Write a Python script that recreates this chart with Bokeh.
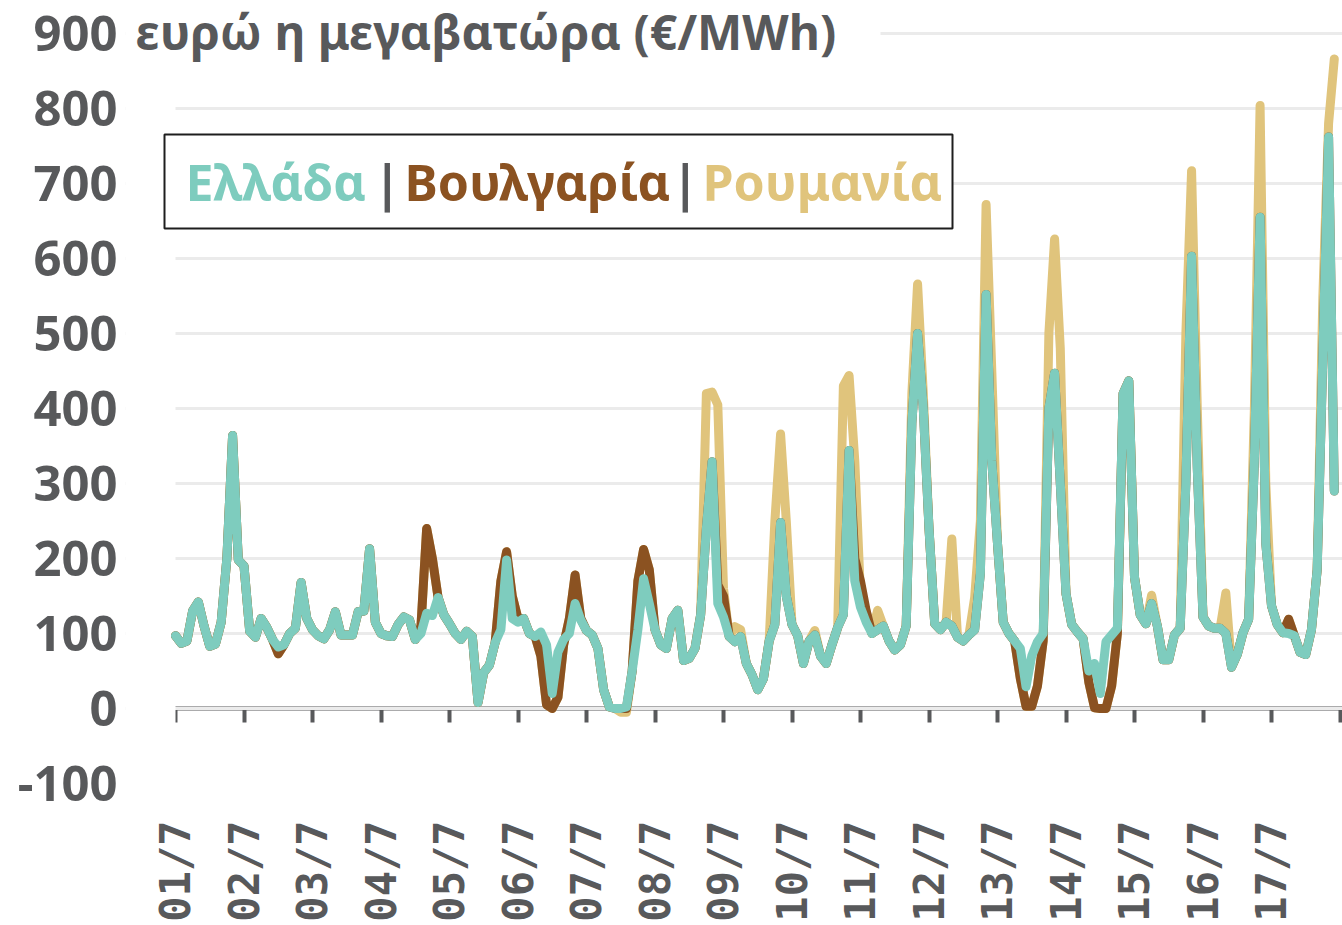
import math
from bokeh.plotting import figure
from bokeh.models import FixedTicker, LinearAxis, Label, BoxAnnotation, Range1d
from bokeh.embed import file_html
from bokeh.resources import INLINE

# ---------------- data (values every 2 hours, 12 per day) ----------------
day_labels = ["01/7", "02/7", "03/7", "04/7", "05/7", "06/7", "07/7", "08/7", "09/7",
              "10/7", "11/7", "12/7", "13/7", "14/7", "15/7", "16/7", "17/7"]
step_hours = 2

greece = [
    97, 87, 90, 130, 142, 110, 83, 86, 115, 200, 364, 198,      # 01/7
    190, 103, 95, 120, 108, 92, 82, 85, 100, 107, 168, 120,     # 02/7
    105, 97, 93, 105, 129, 98, 98, 98, 129, 130, 213, 115,      # 03/7
    100, 97, 96, 112, 122, 118, 92, 100, 127, 124, 148, 125,    # 04/7
    113, 100, 92, 103, 96, 8, 48, 58, 88, 105, 198, 120,        # 05/7
    115, 120, 100, 96, 102, 85, 20, 75, 92, 100, 140, 118,      # 06/7
    104, 98, 80, 25, 2, 0, 0, 2, 50, 105, 173, 140,             # 07/7
    105, 85, 80, 120, 131, 64, 67, 80, 125, 240, 329, 140,      # 08/7
    122, 96, 89, 96, 60, 45, 25, 40, 90, 112, 248, 150,         # 09/7
    112, 97, 60, 90, 98, 70, 60, 85, 108, 125, 344, 170,        # 10/7
    135, 115, 100, 105, 110, 90, 78, 85, 110, 380, 500, 400,    # 11/7
    240, 113, 105, 115, 110, 95, 90, 98, 105, 180, 552, 330,    # 12/7
    220, 115, 100, 90, 80, 29, 70, 89, 100, 400, 447, 300,      # 13/7
    153, 112, 102, 93, 50, 60, 20, 89, 98, 107, 420, 437,       # 14/7
    175, 125, 113, 140, 110, 65, 65, 98, 107, 300, 603, 320,    # 15/7
    122, 110, 107, 107, 100, 55, 72, 101, 119, 330, 655, 220,   # 16/7
    137, 112, 101, 100, 97, 75, 72, 105, 185, 470, 762, 290,    # 17/7
]

bulgaria = [
    97, 87, 90, 130, 142, 110, 83, 86, 115, 200, 364, 198,      # 01/7
    190, 103, 95, 120, 108, 92, 73, 85, 100, 107, 168, 120,     # 02/7
    105, 97, 93, 105, 129, 98, 98, 98, 129, 130, 213, 115,      # 03/7
    100, 97, 96, 112, 122, 118, 92, 110, 240, 200, 148, 125,    # 04/7
    113, 100, 92, 103, 96, 8, 48, 58, 88, 170, 209, 150,        # 05/7
    120, 120, 100, 96, 70, 5, 0, 15, 85, 120, 178, 120,         # 06/7
    104, 98, 80, 25, 2, 0, 0, 0, 50, 170, 212, 185,             # 07/7
    105, 85, 80, 120, 131, 64, 67, 80, 125, 240, 329, 165,      # 08/7
    150, 96, 89, 96, 60, 45, 25, 40, 90, 112, 248, 150,         # 09/7
    112, 97, 60, 90, 98, 70, 60, 85, 108, 125, 344, 200,        # 10/7
    170, 130, 100, 105, 110, 90, 78, 85, 110, 380, 500, 400,    # 11/7
    240, 113, 105, 115, 110, 95, 90, 98, 105, 180, 552, 330,    # 12/7
    220, 115, 100, 90, 40, 3, 3, 30, 90, 400, 447, 300,         # 13/7
    153, 112, 102, 93, 35, 1, 0, 0, 30, 100, 420, 437,          # 14/7
    175, 125, 113, 140, 110, 65, 65, 98, 107, 300, 603, 320,    # 15/7
    122, 110, 107, 107, 100, 55, 72, 101, 119, 330, 655, 220,   # 16/7
    137, 112, 101, 119, 97, 75, 72, 105, 185, 470, 762, 290,    # 17/7
]

romania = [
    97, 87, 90, 130, 142, 110, 83, 86, 115, 200, 364, 198,      # 01/7
    190, 103, 95, 120, 108, 92, 73, 85, 100, 107, 168, 120,     # 02/7
    105, 97, 93, 105, 129, 98, 98, 98, 129, 130, 213, 115,      # 03/7
    100, 97, 96, 112, 122, 118, 92, 110, 240, 200, 148, 125,    # 04/7
    113, 100, 92, 103, 96, 8, 48, 58, 88, 170, 209, 150,        # 05/7
    120, 120, 100, 96, 70, 5, 0, 15, 85, 120, 178, 120,         # 06/7
    104, 98, 80, 25, 2, 0, -5, -5, 50, 170, 212, 185,           # 07/7
    105, 85, 80, 120, 131, 64, 67, 80, 125, 420, 422, 405,      # 08/7
    160, 96, 109, 105, 60, 45, 25, 40, 90, 250, 366, 250,       # 09/7
    112, 97, 60, 90, 104, 70, 60, 85, 108, 430, 444, 330,       # 10/7
    150, 130, 100, 131, 110, 90, 78, 85, 110, 420, 566, 420,    # 11/7
    240, 113, 105, 115, 226, 95, 90, 98, 148, 250, 672, 450,    # 12/7
    220, 115, 100, 90, 40, 3, 3, 30, 90, 500, 626, 480,         # 13/7
    153, 112, 102, 93, 35, 1, 0, 0, 30, 100, 420, 437,          # 14/7
    175, 125, 113, 151, 110, 65, 65, 98, 107, 500, 717, 400,    # 15/7
    122, 110, 107, 107, 154, 55, 72, 101, 119, 400, 804, 300,   # 16/7
    137, 112, 101, 119, 97, 75, 72, 105, 185, 550, 780, 866,    # 17/7
]

y_ticks = [-100, 0, 100, 200, 300, 400, 500, 600, 700, 800, 900]
title_text = "ευρώ η μεγαβατώρα (€/MWh)"
legend_names = ["Ελλάδα", "Βουλγαρία", "Ρουμανία"]

hours = [i * step_hours for i in range(len(greece))]
day_ticks = [24 * i for i in range(len(day_labels))]
edge_ticks = [24 * i for i in range(len(day_labels) + 1)]

# ---------------- styles / layout ----------------
GREECE_C = "#7ECCBE"
BULG_C = "#8B5221"
ROM_C = "#E0C47C"
GRAY = "#58595B"
FONT = "Noto Sans"

PX_PER_HOUR = 68.5 / 24.0      # page pixels per hour
X0_PAGE = 175.0                # page x of hour 0
Y0_PAGE = 708.0                # page y of value 0
PX_PER_UNIT = 0.75             # page pixels per €/MWh
FRAME_LEFT = 125
FRAME_RIGHT = 1342
FRAME_TOP = 0
FRAME_BOTTOM = 783


def px_x(px):
    return (px - X0_PAGE) / PX_PER_HOUR


def px_y(py):
    return (Y0_PAGE - py) / PX_PER_UNIT


x_start = px_x(FRAME_LEFT)
x_end = px_x(FRAME_RIGHT)
y_start = px_y(FRAME_BOTTOM)
y_end = px_y(FRAME_TOP)

p = figure(frame_width=FRAME_RIGHT - FRAME_LEFT, frame_height=FRAME_BOTTOM - FRAME_TOP,
           output_backend="svg", toolbar_location=None,
           x_range=Range1d(x_start, x_end), y_range=Range1d(y_start, y_end),
           min_border_left=FRAME_LEFT, min_border_right=0, min_border_top=FRAME_TOP,
           min_border_bottom=0)
p.outline_line_color = None
p.background_fill_color = "white"
p.border_fill_color = "white"

# grid
p.xgrid.visible = False
p.ygrid.ticker = FixedTicker(ticks=y_ticks)
p.ygrid.grid_line_color = "#EBEBEB"
p.ygrid.grid_line_width = 3

# white mask: grid lines start at hour 0 as in the original
p.add_layout(BoxAnnotation(left=x_start, right=0, bottom=y_start, top=y_end,
                           fill_color="white", fill_alpha=1, line_color=None,
                           level="underlay"))

# y axis
ya = p.yaxis[0]
ya.ticker = FixedTicker(ticks=y_ticks)
ya.axis_line_color = None
ya.major_tick_line_color = None
ya.minor_tick_line_color = None
ya.major_tick_out = 0
ya.major_tick_in = 0
ya.major_label_standoff = 8
ya.major_label_text_font = FONT
ya.major_label_text_font_style = "bold"
ya.major_label_text_font_size = "49px"
ya.major_label_text_color = GRAY
ya.major_label_overrides = {t: str(t) for t in y_ticks}

# bottom axis: only the date labels
xa = p.xaxis[0]
xa.ticker = FixedTicker(ticks=day_ticks)
xa.major_label_overrides = {t: lab for t, lab in zip(day_ticks, day_labels)}
xa.axis_line_color = None
xa.major_tick_line_color = None
xa.minor_tick_line_color = None
xa.major_tick_out = 0
xa.major_tick_in = 0
xa.major_label_orientation = math.pi / 2
xa.major_label_standoff = 37
xa.major_label_text_font = "DejaVu Sans Mono"
xa.major_label_text_font_style = "bold"
xa.major_label_text_font_size = "42px"
xa.major_label_text_color = GRAY

# zero axis with day ticks
zero_axis = LinearAxis(fixed_location=0, ticker=FixedTicker(ticks=edge_ticks),
                       bounds=(-1.0, x_end),
                       axis_line_color=GRAY, axis_line_width=4,
                       major_tick_line_color=GRAY, major_tick_line_width=4,
                       major_tick_in=0, major_tick_out=14,
                       minor_tick_line_color=None,
                       major_label_text_alpha=0, major_label_text_font_size="1px",
                       level="underlay")
p.add_layout(zero_axis, "below")

# series
for vals, col in [(romania, ROM_C), (bulgaria, BULG_C), (greece, GREECE_C)]:
    p.line(hours, vals, line_color=col, line_width=9, line_join="round", line_cap="round")

# title text next to the 900 label (white backing hides the grid line behind it)
p.add_layout(BoxAnnotation(left=x_start, right=px_x(880), bottom=px_y(40), top=y_end,
                           fill_color="white", fill_alpha=1, line_color=None))
p.add_layout(Label(x=px_x(135), y=px_y(31), text=title_text, text_font=FONT,
                   text_font_style="bold", text_font_size="48px", text_color=GRAY,
                   text_align="left", text_baseline="alphabetic"))

# legend box
p.add_layout(BoxAnnotation(left=px_x(164), right=px_x(952), top=px_y(134), bottom=px_y(228),
                           fill_color="white", fill_alpha=1, line_color="#1E1E1E",
                           line_alpha=1, line_width=2))
base_y = px_y(181)
legend_items = [
    (legend_names[0], GREECE_C, 185),
    ("|", GRAY, 373),
    (legend_names[1], BULG_C, 404),
    ("|", GRAY, 671),
    (legend_names[2], ROM_C, 702),
]
for txt, col, xpx in legend_items:
    p.add_layout(Label(x=px_x(xpx), y=base_y, text=txt, text_font=FONT,
                       text_font_style="bold", text_font_size="50px", text_color=col,
                       text_align="left", text_baseline="alphabetic"))

open("out.html", "w").write(file_html(p, INLINE))
